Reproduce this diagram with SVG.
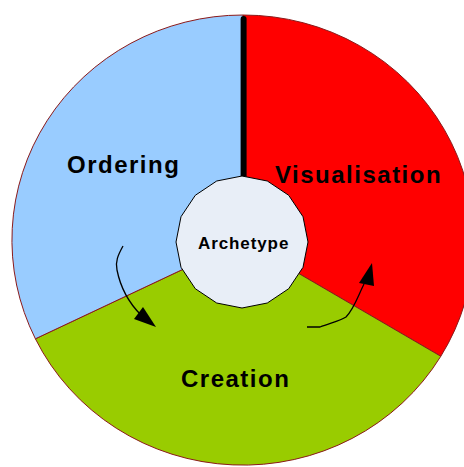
<svg xmlns="http://www.w3.org/2000/svg" width="464" height="467" viewBox="0 0 464 467">
  <style>
    .sector { stroke: #8b1a1a; stroke-width: 1; }
    .label { font-family: "Liberation Sans", Arial, sans-serif; font-weight: bold; fill: #000; }
    .big { font-size: 24px; letter-spacing: 1.5px; }
    .small { font-size: 17px; letter-spacing: 0.9px; }
    .flow { fill: none; stroke: #000; stroke-width: 1.3; }
    .head { fill: #000; }
  </style>

  <g id="visualisation">
    <path class="sector" fill="#ff0000" d="M243,241 L243,15 A231,225 0 0 1 440.8,356.3 Z"/>
    <text class="label big" x="275" y="183">Visualisation</text>
  </g>
  <g id="creation">
    <path class="sector" fill="#99cc00" d="M243,241 L440.8,356.3 A231,225 0 0 1 35.4,338.8 Z"/>
    <text class="label big" x="181" y="387">Creation</text>
  </g>
  <g id="ordering">
    <path class="sector" fill="#99ccff" d="M243,241 L35.4,338.8 A231,225 0 0 1 243,15 Z"/>
    <text class="label big" x="67" y="173">Ordering</text>
  </g>

  <g id="connectors">
    <line x1="243.6" y1="19" x2="243.6" y2="180" stroke="#000" stroke-width="6" stroke-linecap="round"/>
    <path class="flow" d="M123,246 C118,255 115,262 117,270 C120,285 128,302 141,315"/>
    <path class="head" d="M143,307 L156,327 L134,319 Z"/>
    <path class="flow" d="M307,327 L320,327 C330,323 340,321 346,317 C354,309 358,296 364,284"/>
    <path class="head" d="M359,283 L372,263 L374,286 Z"/>
  </g>

  <g id="archetype">
    <polygon fill="#e8eef7" stroke="#000" stroke-width="1" points="242,176 267.3,181 288.7,195.3 303,216.7 308,242 303,267.3 288.7,288.7 267.3,303 242,308 216.7,303 195.3,288.7 181,267.3 176,242 181,216.7 195.3,195.3 216.7,181"/>
    <text class="label small" x="198" y="249">Archetype</text>
  </g>
</svg>
